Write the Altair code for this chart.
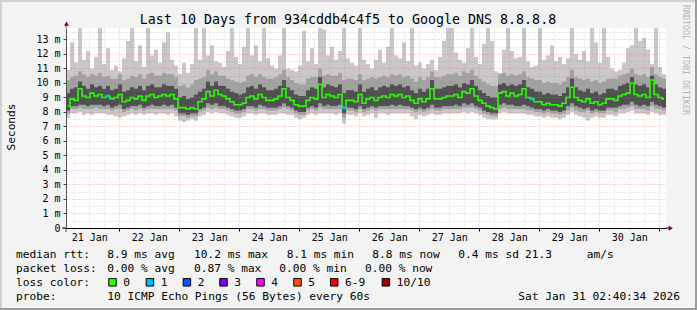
import altair as alt
import pandas as pd

# ---------------- text content ----------------
TITLE = "Last 10 Days from 934cddb4c4f5 to Google DNS 8.8.8.8"
Y_TITLE = "Seconds"
WATERMARK = "RRDTOOL / TOBI OETIKER"
START = "2026-01-21 02:40:34"   # graph start (UTC), 10 days span
STAMP = "Sat Jan 31 02:40:34 2026"

# ---------------- series (ms), one value per ~96 min column ----------------
rtt_median = [
    8.4, 8.9, 8.8, 9.6, 9.1, 9.0, 9.3, 9.1, 9.2, 9.0, 9.1, 8.9, 9.0, 9.2, 8.7, 8.8, 9.0, 8.9, 9.1, 8.8,
    9.1, 9.2, 9.0, 9.1, 9.2, 9.1, 9.2, 8.9, 8.3, 8.3, 8.2, 8.3, 8.2, 8.7, 8.9, 9.4, 9.1, 9.5,
    9.2, 9.1, 8.9, 8.7, 8.5, 8.5, 8.6, 9.0, 9.1, 8.9, 9.2, 9.0, 8.8, 8.8, 8.9, 9.1, 9.6, 9.0, 8.8, 8.5,
    8.4, 8.4, 8.8, 9.0, 8.9, 9.9, 9.0, 9.2, 9.1, 9.0, 9.2, 8.3, 8.8, 8.8, 8.7, 9.2, 8.6,
    8.9, 9.0, 8.8, 9.0, 9.1, 9.0, 9.2, 9.1, 9.2, 9.0, 9.1, 8.8, 8.6, 8.9, 8.7, 8.9, 9.6, 8.9, 8.9, 9.0,
    9.1, 9.1, 9.2, 9.0, 9.4, 9.3, 9.6, 9.1, 8.8, 8.6, 8.4, 8.3, 8.2, 9.3, 9.4, 9.1, 9.3, 9.1,
    9.2, 9.6, 9.0, 8.9, 8.7, 8.7, 8.5, 8.6, 8.5, 8.5, 8.4, 8.6, 9.0, 9.7, 9.0, 8.8, 8.7, 8.9, 8.6, 8.7,
    8.5, 8.6, 8.9, 8.9, 8.8, 9.1, 9.2, 9.3, 10.0, 9.2, 9.1, 9.2, 9.0, 10.2, 9.2, 9.0, 8.9,
]
rtt_max = [
    10.9, 12.8, 11.4, 13.8, 11.6, 12.2, 11.0, 11.8, 13.8, 11.3, 12.4, 10.9, 11.2, 10.8, 11.7, 12.9, 13.8, 11.5, 12.6, 11.1,
    13.8, 11.9, 12.3, 11.4, 12.8, 13.5, 11.6, 11.2, 10.6, 11.4, 10.7, 11.3, 13.8, 11.6, 13.8, 11.9, 12.6, 11.5,
    11.4, 11.1, 12.2, 13.8, 11.8, 11.3, 12.5, 13.8, 11.9, 12.6, 11.5, 13.8, 11.7, 11.2, 11.0, 11.9, 13.8, 11.0, 10.9, 10.8,
    11.2, 13.6, 11.5, 12.4, 11.3, 13.8, 13.7, 11.9, 12.5, 11.6, 12.2, 13.8, 11.7, 11.4, 11.2, 13.8, 11.6,
    11.3, 11.0, 11.6, 12.3, 11.4, 12.5, 13.8, 11.9, 11.7, 12.8, 11.5, 13.8, 11.2, 11.4, 11.0, 11.3, 11.6, 10.9, 11.8, 12.9,
    13.8, 13.8, 12.1, 11.6, 11.4, 12.4, 13.8, 11.8, 11.3, 12.7, 13.8, 12.9, 10.8, 10.7, 12.3, 13.8, 12.2, 11.7,
    11.8, 13.8, 11.5, 11.1, 11.2, 13.8, 11.6, 11.9, 12.6, 11.5, 11.8, 11.3, 11.7, 13.8, 12.0, 11.6, 12.2, 11.5, 13.8, 12.8,
    11.4, 13.8, 11.8, 11.0, 10.8, 10.9, 11.4, 12.4, 12.6, 13.8, 12.9, 13.1, 12.3, 11.3, 13.8, 11.1, 10.6,
]
rtt_upper_mid = [
    10.2, 10.4, 10.5, 10.8, 10.6, 10.4, 10.6, 10.5, 10.7, 10.4, 10.5, 10.3, 10.3, 10.6, 10.2, 10.3, 10.5, 10.4, 10.6, 10.3,
    10.6, 10.7, 10.5, 10.5, 10.7, 10.6, 10.6, 10.4, 9.8, 9.9, 9.7, 9.9, 10.2, 10.3, 10.4, 10.9, 10.6, 10.8,
    10.5, 10.5, 10.3, 10.2, 10.1, 10.0, 10.1, 10.5, 10.6, 10.4, 10.6, 10.4, 10.3, 10.3, 10.4, 10.6, 10.9, 10.4, 10.2, 10.0,
    9.9, 9.9, 10.3, 10.4, 10.4, 11.0, 10.5, 10.6, 10.5, 10.5, 10.7, 10.2, 10.3, 10.3, 10.2, 10.6, 10.2,
    10.3, 10.4, 10.3, 10.4, 10.5, 10.4, 10.6, 10.5, 10.6, 10.4, 10.5, 10.3, 10.1, 10.4, 10.2, 10.4, 10.8, 10.4, 10.4, 10.5,
    10.6, 10.6, 10.7, 10.5, 10.8, 10.7, 10.9, 10.5, 10.3, 10.1, 9.9, 9.8, 9.8, 10.6, 10.7, 10.5, 10.6, 10.5,
    10.6, 10.8, 10.4, 10.3, 10.2, 10.2, 10.0, 10.1, 10.0, 10.0, 9.9, 10.1, 10.4, 10.9, 10.4, 10.3, 10.2, 10.3, 10.1, 10.2,
    10.0, 10.1, 10.3, 10.3, 10.3, 10.5, 10.6, 10.7, 11.0, 10.6, 10.5, 10.6, 10.4, 11.1, 10.6, 10.4, 10.3,
]
rtt_upper_core = [
    9.3, 9.6, 9.7, 10.1, 9.8, 9.6, 9.9, 9.7, 9.8, 9.6, 9.8, 9.5, 9.6, 9.9, 9.4, 9.5, 9.7, 9.6, 9.8, 9.5,
    9.8, 9.9, 9.7, 9.7, 9.9, 9.8, 9.8, 9.6, 9.0, 9.1, 8.9, 9.0, 9.2, 9.4, 9.6, 10.1, 9.8, 10.1,
    9.8, 9.8, 9.6, 9.4, 9.3, 9.2, 9.3, 9.7, 9.8, 9.6, 9.9, 9.7, 9.5, 9.5, 9.6, 9.8, 10.2, 9.7, 9.5, 9.2,
    9.1, 9.1, 9.5, 9.7, 9.6, 10.4, 9.7, 9.9, 9.8, 9.7, 9.9, 9.3, 9.5, 9.5, 9.4, 9.9, 9.4,
    9.6, 9.7, 9.5, 9.7, 9.8, 9.7, 9.9, 9.8, 9.9, 9.7, 9.8, 9.5, 9.3, 9.6, 9.4, 9.6, 10.2, 9.6, 9.6, 9.7,
    9.8, 9.8, 9.9, 9.7, 10.0, 9.9, 10.2, 9.8, 9.5, 9.3, 9.1, 9.0, 9.0, 9.9, 10.0, 9.8, 9.9, 9.8,
    9.9, 10.2, 9.7, 9.6, 9.4, 9.4, 9.2, 9.3, 9.2, 9.2, 9.1, 9.3, 9.7, 10.3, 9.7, 9.5, 9.4, 9.6, 9.3, 9.4,
    9.2, 9.3, 9.6, 9.6, 9.5, 9.8, 9.9, 10.0, 10.4, 9.9, 9.8, 9.9, 9.7, 10.5, 9.9, 9.7, 9.6,
]
rtt_lower_core = [
    8.1, 8.4, 8.4, 8.5, 8.5, 8.4, 8.5, 8.5, 8.5, 8.4, 8.5, 8.3, 8.4, 8.5, 8.2, 8.3, 8.4, 8.4, 8.5, 8.3,
    8.4, 8.5, 8.4, 8.4, 8.5, 8.4, 8.5, 8.3, 7.9, 7.9, 7.8, 7.9, 7.9, 8.2, 8.3, 8.6, 8.5, 8.6,
    8.4, 8.4, 8.3, 8.2, 8.1, 8.1, 8.2, 8.4, 8.4, 8.3, 8.5, 8.4, 8.3, 8.3, 8.3, 8.4, 8.6, 8.4, 8.3, 8.1,
    8.0, 8.0, 8.3, 8.4, 8.3, 8.6, 8.4, 8.5, 8.4, 8.4, 8.5, 7.9, 8.3, 8.3, 8.2, 8.4, 8.2,
    8.3, 8.4, 8.3, 8.4, 8.4, 8.4, 8.5, 8.4, 8.5, 8.4, 8.4, 8.3, 8.2, 8.3, 8.2, 8.3, 8.5, 8.3, 8.3, 8.4,
    8.4, 8.4, 8.5, 8.4, 8.6, 8.5, 8.6, 8.4, 8.3, 8.1, 8.0, 7.9, 7.9, 8.5, 8.6, 8.5, 8.5, 8.4,
    8.4, 8.5, 8.4, 8.3, 8.2, 8.2, 8.1, 8.2, 8.1, 8.1, 8.0, 8.1, 8.4, 8.6, 8.4, 8.3, 8.2, 8.3, 8.1, 8.2,
    8.1, 8.1, 8.3, 8.3, 8.3, 8.4, 8.5, 8.5, 8.7, 8.5, 8.4, 8.5, 8.4, 8.7, 8.5, 8.4, 8.3,
]
rtt_lower_mid = [
    7.9, 8.2, 8.2, 8.3, 8.2, 8.2, 8.2, 8.3, 8.2, 8.2, 8.2, 8.1, 8.2, 8.2, 8.0, 8.1, 8.2, 8.1, 8.2, 8.1,
    8.2, 8.2, 8.2, 8.2, 8.2, 8.2, 8.2, 8.1, 7.7, 7.7, 7.6, 7.7, 7.7, 8.0, 8.1, 8.3, 8.2, 8.3,
    8.2, 8.2, 8.1, 8.0, 7.9, 7.9, 8.0, 8.2, 8.2, 8.1, 8.2, 8.2, 8.1, 8.1, 8.1, 8.2, 8.3, 8.2, 8.1, 7.9,
    7.8, 7.8, 8.1, 8.2, 8.1, 8.3, 8.2, 8.2, 8.2, 8.2, 8.2, 7.6, 8.1, 8.1, 8.0, 8.2, 8.0,
    8.1, 8.2, 8.1, 8.2, 8.2, 8.2, 8.2, 8.2, 8.2, 8.2, 8.2, 8.1, 8.0, 8.1, 8.0, 8.1, 8.2, 8.1, 8.1, 8.2,
    8.2, 8.2, 8.2, 8.2, 8.3, 8.3, 8.3, 8.2, 8.1, 7.9, 7.8, 7.7, 7.7, 8.2, 8.3, 8.2, 8.2, 8.2,
    8.2, 8.2, 8.1, 8.1, 8.0, 8.0, 7.9, 8.0, 7.9, 7.9, 7.8, 7.9, 8.1, 8.3, 8.1, 8.0, 8.0, 8.1, 7.9, 8.0,
    7.9, 7.9, 8.1, 8.1, 8.0, 8.2, 8.2, 8.3, 8.4, 8.2, 8.2, 8.2, 8.1, 8.4, 8.2, 8.2, 8.1,
]
rtt_min = [
    7.6, 7.9, 7.9, 8.0, 7.8, 7.9, 7.8, 7.9, 7.9, 7.9, 7.8, 7.8, 7.7, 7.6, 7.7, 7.8, 7.9, 7.8, 7.9, 7.8,
    7.9, 7.9, 7.8, 7.9, 7.9, 7.8, 7.9, 7.7, 7.4, 7.3, 7.4, 7.5, 7.4, 7.7, 7.8, 8.0, 7.9, 8.0,
    7.9, 7.9, 7.8, 7.7, 7.6, 7.6, 7.7, 7.9, 7.9, 7.8, 7.9, 7.9, 7.8, 7.8, 7.8, 7.9, 7.9, 7.8, 7.8, 7.6,
    7.5, 7.6, 7.8, 7.9, 7.8, 7.9, 7.9, 7.9, 7.9, 7.8, 7.9, 7.2, 7.8, 7.8, 7.7, 7.9, 7.7,
    7.8, 7.9, 7.6, 7.9, 7.9, 7.8, 7.9, 7.9, 7.9, 7.9, 7.9, 7.7, 7.5, 7.8, 7.7, 7.8, 7.9, 7.8, 7.8, 7.9,
    7.9, 7.9, 7.9, 7.9, 8.0, 7.9, 8.0, 7.9, 7.8, 7.6, 7.5, 7.5, 7.5, 7.9, 8.0, 7.9, 7.9, 7.9,
    7.9, 7.9, 7.8, 7.8, 7.7, 7.7, 7.6, 7.7, 7.6, 7.6, 7.5, 7.6, 7.8, 8.0, 7.8, 7.7, 7.6, 7.4, 7.6, 7.7,
    7.6, 7.6, 7.8, 7.8, 7.7, 7.9, 7.9, 8.0, 8.1, 7.9, 7.9, 7.9, 7.8, 8.0, 7.9, 7.8, 7.8,
]
loss_columns = [10, 69, 116]   # columns where 1 of 10 pings was lost

# ---------------- legend texts ----------------
line_rtt = [("median rtt:", 16), ("8.9 ms avg", 107.3), ("10.2 ms max", 194), ("8.1 ms min", 286.7),
            ("8.8 ms now", 372.3), ("0.4 ms sd", 458.3), ("21.3", 525), ("am/s", 586.7)]
line_loss = [("packet loss:", 16), ("0.00 % avg", 107.3), ("0.87 % max", 194),
             ("0.00 % min", 279.3), ("0.00 % now", 365)]
loss_labels = ["0", "1", "2", "3", "4", "5", "6-9", "10/10"]
loss_colors = ["#26ff00", "#00b8ff", "#0059ff", "#7e00ff", "#ff00ff", "#ff5500", "#ff0000", "#a10000"]
loss_box_left = [108.3, 145.7, 182.7, 219.3, 256.3, 293.3, 330, 381.7]
line_probe = [("probe:", 16), ("10 ICMP Echo Pings (56 Bytes) every 60s", 107.3)]

# ---------------- layout constants ----------------
W, H = 697, 310
PL, PT = 66, 28          # plot origin
PW, PH = 600, 200        # plot size
MONO = "DejaVu Sans Mono"
LIGHT, MID, DARK = "#c8c8c8", "#a2a2a2", "#505050"
MAJ = "rgba(255,95,95,0.55)"
MIN = "rgba(130,130,130,0.35)"

n = len(rtt_median)
for s in (rtt_max, rtt_upper_mid, rtt_upper_core, rtt_lower_core, rtt_lower_mid, rtt_min):
    assert len(s) == n

start = pd.Timestamp(START, tz="UTC")
span = pd.Timedelta(days=10)
step = span / n


def ms(ts):
    return int(ts.value // 10**6)


df = pd.DataFrame({
    "t0": [ms(start + i * step) for i in range(n)],
    "t1": [ms(start + (i + 1) * step) for i in range(n)],
    "tc": [ms(start + (i + 0.5) * step) for i in range(n)],
    "lo": rtt_min, "l2": rtt_lower_mid, "l3": rtt_lower_core,
    "med": rtt_median,
    "u3": rtt_upper_core, "u2": rtt_upper_mid, "hi": rtt_max,
    "loss": [1 if i in loss_columns else 0 for i in range(n)],
})

x_dom = [ms(start), ms(start + span)]
first6 = pd.Timestamp("2026-01-21 06:00", tz="UTC")
x_vals = [ms(first6 + k * pd.Timedelta(hours=6)) for k in range(40)]
y_vals = [k * 0.5 for k in range(28)]
Y_TOP = 13.79

x_scale = alt.Scale(type="utc", domain=x_dom)
y_scale = alt.Scale(domain=[0, Y_TOP], nice=False, zero=True)

x_axis = alt.Axis(
    values=x_vals, title=None, grid=True, zindex=1,
    gridColor={"condition": {"test": "utchours(datum.value) === 0", "value": MAJ}, "value": MIN},
    gridDash=[1, 2], gridWidth=1,
    ticks=True, tickSize=3, tickColor="#000000",
    tickOpacity={"condition": {"test": "utchours(datum.value) === 0", "value": 1}, "value": 0},
    labelExpr="utchours(datum.value) === 12 ? utcFormat(datum.value, '%d %b') : ''",
    labelOverlap=False, labelFlush=False, labelPadding=1,
    labelFont=MONO, labelFontSize=10, labelColor="#000000",
    domainColor="#000000", domainWidth=1,
)
y_axis = alt.Axis(
    values=y_vals, title=None, grid=True, zindex=1,
    gridColor={"condition": {"test": "datum.value % 1 === 0", "value": MAJ}, "value": MIN},
    gridDash=[1, 2], gridWidth=1,
    ticks=True, tickSize=3, tickColor="#404040",
    tickOpacity={"condition": {"test": "datum.value % 1 === 0", "value": 1}, "value": 0},
    labelExpr="datum.value % 1 !== 0 ? '' : (datum.value === 0 ? '0' : datum.value + ' m')",
    labelOverlap=False, labelFlush=False, labelPadding=3,
    labelFont=MONO, labelFontSize=10, labelColor="#000000",
    domainColor="#505050", domainWidth=1,
)

X = alt.X("t0:T", scale=x_scale, axis=x_axis)
base = alt.Chart(df)

light = base.mark_rect(color=LIGHT, clip=True, strokeWidth=0).encode(
    x=X, x2="t1:T", y=alt.Y("lo:Q", scale=y_scale, axis=y_axis), y2="hi:Q")
mid = base.mark_rect(color=MID, clip=True, strokeWidth=0).encode(
    x=X, x2="t1:T", y=alt.Y("l2:Q", scale=y_scale, axis=y_axis), y2="u2:Q")
dark = base.mark_rect(color=DARK, clip=True, strokeWidth=0).encode(
    x=X, x2="t1:T", y=alt.Y("l3:Q", scale=y_scale, axis=y_axis), y2="u3:Q")
median = base.mark_line(interpolate="step", color=loss_colors[0], strokeWidth=1.6).encode(
    x=alt.X("tc:T", scale=x_scale, axis=x_axis),
    y=alt.Y("med:Q", scale=y_scale, axis=y_axis))
lossmk = base.transform_filter("datum.loss >= 1").mark_square(
    size=10, color=loss_colors[1], opacity=1).encode(
    x=alt.X("tc:T", scale=x_scale, axis=x_axis),
    y=alt.Y("med:Q", scale=y_scale, axis=y_axis))

PX = alt.X("px:Q", scale=None, axis=None)
PY = alt.Y("py:Q", scale=None, axis=None)

# footer text (pixel positions relative to plot origin)
rows = []
for t, x in line_rtt:
    rows.append({"text": t, "px": x - PL, "py": 258.3 - PT})
for t, x in line_loss:
    rows.append({"text": t, "px": x - PL, "py": 272 - PT})
rows.append({"text": "loss color:", "px": 16 - PL, "py": 286 - PT})
for t, x in zip(loss_labels, loss_box_left):
    rows.append({"text": t, "px": x + 15 - PL, "py": 286 - PT})
for t, x in line_probe:
    rows.append({"text": t, "px": x - PL, "py": 300 - PT})
foot = alt.Chart(pd.DataFrame(rows)).mark_text(
    align="left", baseline="alphabetic", font=MONO, fontSize=11.2, color="#000000").encode(
    x=PX, y=PY, text="text:N")
stamp = alt.Chart(pd.DataFrame([{"text": STAMP, "px": 680 - PL, "py": 300 - PT}])).mark_text(
    align="right", baseline="alphabetic", font=MONO, fontSize=11.2, color="#000000").encode(
    x=PX, y=PY, text="text:N")

boxes = alt.Chart(pd.DataFrame({
    "px": [x + 4.2 - PL for x in loss_box_left],
    "py": [282.3 - PT] * len(loss_box_left),
    "c": loss_colors,
})).mark_square(size=56, opacity=1, stroke="#000000", strokeWidth=1).encode(
    x=PX, y=PY, fill=alt.Fill("c:N", scale=None))

title = alt.Chart(pd.DataFrame([{"text": TITLE, "px": 348 - PL, "py": 24 - PT}])).mark_text(
    align="center", baseline="alphabetic", font=MONO, fontSize=13.3, color="#000000").encode(
    x=PX, y=PY, text="text:N")
ytitle = alt.Chart(pd.DataFrame([{"text": Y_TITLE, "px": 15 - PL, "py": 127 - PT}])).mark_text(
    align="center", baseline="alphabetic", font=MONO, fontSize=11.2, angle=270, color="#000000").encode(
    x=PX, y=PY, text="text:N")
wmark = alt.Chart(pd.DataFrame([{"text": WATERMARK, "px": 683 - PL, "py": 5 - PT}])).mark_text(
    align="left", baseline="alphabetic", font=MONO, fontSize=8.3, angle=90, color="#b4b4b4").encode(
    x=PX, y=PY, text="text:N")

# frame and axis extensions / arrows (decoration)
frame = alt.Chart(pd.DataFrame([
    {"px": 0 - PL, "px2": 2 - PL, "py": 0 - PT, "py2": H - PT, "c": "#d2d2d2"},
    {"px": 0 - PL, "px2": W - PL, "py": 0 - PT, "py2": 2 - PT, "c": "#d2d2d2"},
    {"px": W - 2 - PL, "px2": W - PL, "py": 0 - PT, "py2": H - PT, "c": "#9c9c9c"},
    {"px": 0 - PL, "px2": W - PL, "py": H - 2 - PT, "py2": H - PT, "c": "#9c9c9c"},
])).mark_rect(strokeWidth=0).encode(
    x=PX, x2="px2:Q", y=PY, y2="py2:Q", color=alt.Color("c:N", scale=None))
ext = alt.Chart(pd.DataFrame([
    {"px": 62 - PL, "px2": 66 - PL, "py": 228 - PT, "py2": 228 - PT, "c": "#000000"},
    {"px": 666 - PL, "px2": 669 - PL, "py": 228 - PT, "py2": 228 - PT, "c": "#000000"},
    {"px": 66 - PL, "px2": 66 - PL, "py": 228 - PT, "py2": 232 - PT, "c": "#505050"},
    {"px": 66 - PL, "px2": 66 - PL, "py": 25 - PT, "py2": 28 - PT, "c": "#505050"},
])).mark_rule(strokeWidth=1).encode(
    x=PX, x2="px2:Q", y=PY, y2="py2:Q", color=alt.Color("c:N", scale=None))
arrows = alt.Chart(pd.DataFrame([
    {"px": 66.5 - PL, "py": 23.7 - PT, "s": "triangle-up"},
    {"px": 670.8 - PL, "py": 228.3 - PT, "s": "triangle-right"},
])).mark_point(filled=True, size=24, color="#7f0000", opacity=1).encode(
    x=PX, y=PY, shape=alt.Shape("s:N", scale=None))

chart = alt.layer(
    light, mid, dark, median, lossmk, frame, ext, arrows, title, ytitle, wmark, foot, stamp, boxes
).properties(
    width=PW, height=PH,
    autosize=alt.AutoSizeParams(type="none"),
    padding={"left": PL, "top": PT, "right": W - PL - PW, "bottom": H - PT - PH},
).configure(background="#f3f3f3").configure_view(fill="#ffffff", strokeWidth=0)

chart.save("out.html", embed_options={"renderer": "svg", "actions": False})
